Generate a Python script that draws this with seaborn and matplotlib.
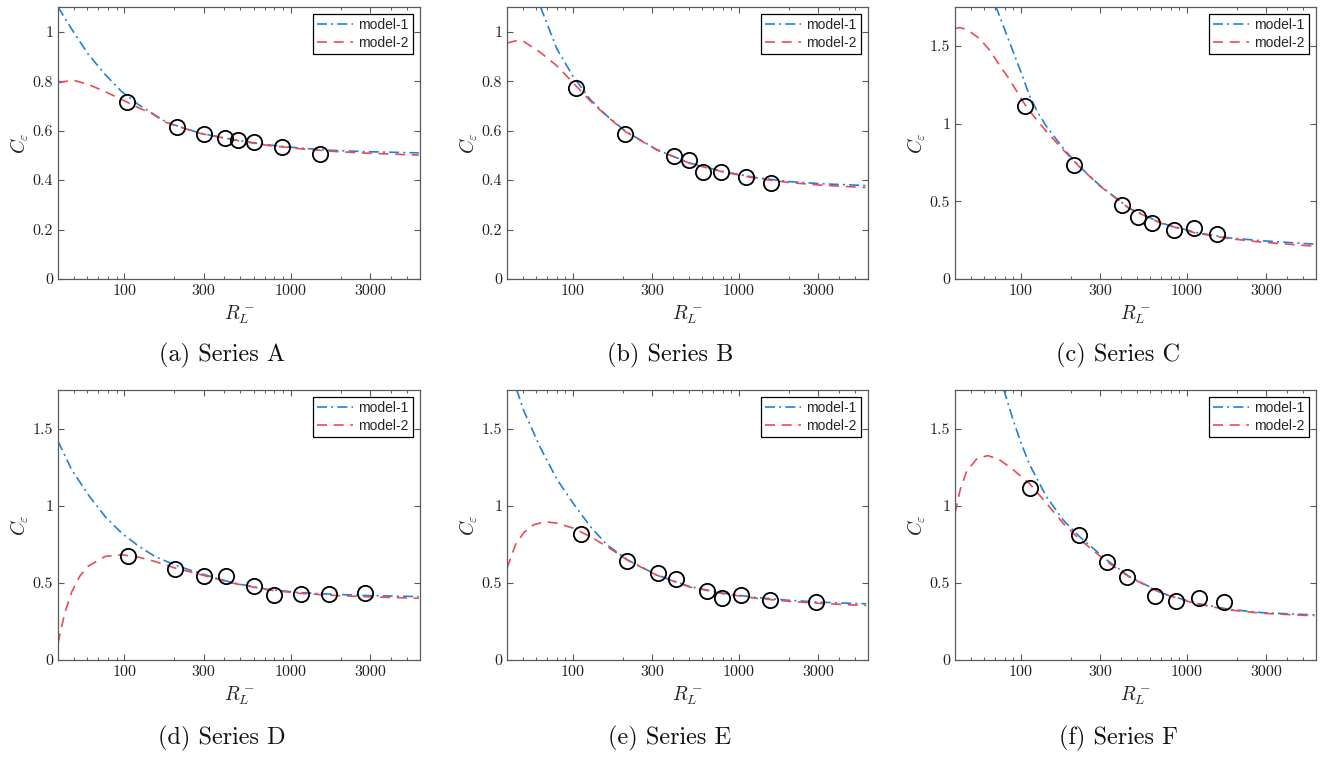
import numpy as np
import seaborn as sns
import matplotlib.pyplot as plt
from matplotlib.ticker import FixedLocator, FixedFormatter, NullFormatter

# measured points (R_L^-, C_eps) for each series
pts_x = {
    "A": [104, 208, 303, 402, 485, 600, 883, 1507],
    "B": [104, 207, 407, 501, 605, 783, 1102, 1570],
    "C": [105, 209, 405, 506, 614, 836, 1096, 1520],
    "D": [106, 203, 303, 407, 600, 798, 1153, 1706, 2818],
    "E": [111, 213, 324, 417, 640, 787, 1033, 1535, 2911],
    "F": [113, 225, 328, 435, 646, 855, 1180, 1683],
}
pts_y = {
    "A": [0.714, 0.615, 0.588, 0.572, 0.561, 0.553, 0.535, 0.507],
    "B": [0.772, 0.585, 0.499, 0.482, 0.432, 0.431, 0.412, 0.388],
    "C": [1.11, 0.731, 0.478, 0.401, 0.362, 0.313, 0.325, 0.287],
    "D": [0.675, 0.593, 0.543, 0.543, 0.48, 0.42, 0.431, 0.426, 0.437],
    "E": [0.816, 0.639, 0.561, 0.524, 0.448, 0.40, 0.424, 0.39, 0.379],
    "F": [1.117, 0.81, 0.636, 0.537, 0.418, 0.383, 0.403, 0.379],
}

# model-1 curves
m1_x = {
    "A": [40, 48.3, 60.8, 76.6, 96.5, 121.4, 146, 180, 285, 450, 715, 1130, 1800, 2840, 5900],
    "B": [63.7, 80, 100, 127, 160, 207, 320, 505, 800, 1270, 2010, 3190, 5800],
    "C": [70.5, 81.7, 100, 112.7, 126.5, 142, 179, 225, 297, 449, 711, 1127, 1786, 2831, 5880],
    "D": [40, 48.3, 60.8, 76.6, 96.5, 121.4, 153, 201, 264, 303, 450, 715, 1130, 1800, 2840, 5900],
    "E": [45.7, 50.6, 63.7, 80.2, 100, 127, 160, 213, 319, 505, 800, 1270, 2010, 3190, 5850],
    "F": [78.7, 89.5, 100, 112.7, 142, 179, 225, 328, 449, 711, 1127, 1786, 2831, 5880],
}
m1_y = {
    "A": [1.10, 1.011, 0.909, 0.828, 0.758, 0.706, 0.672, 0.633, 0.59, 0.564, 0.543, 0.53, 0.52, 0.515, 0.51],
    "B": [1.10, 0.93, 0.82, 0.726, 0.66, 0.598, 0.523, 0.469, 0.435, 0.41, 0.394, 0.385, 0.378],
    "C": [1.754, 1.575, 1.33, 1.177, 1.069, 0.983, 0.843, 0.724, 0.604, 0.455, 0.358, 0.30, 0.265, 0.246, 0.224],
    "D": [1.418, 1.234, 1.071, 0.931, 0.823, 0.74, 0.671, 0.617, 0.573, 0.553, 0.50, 0.459, 0.437, 0.426, 0.418, 0.411],
    "E": [1.753, 1.613, 1.374, 1.169, 1.017, 0.866, 0.747, 0.649, 0.552, 0.476, 0.433, 0.405, 0.387, 0.374, 0.364],
    "F": [1.753, 1.558, 1.407, 1.266, 1.06, 0.909, 0.80, 0.649, 0.541, 0.433, 0.368, 0.329, 0.307, 0.292],
}

# model-2 curves
m2_x = {
    "A": [40, 49.4, 60.8, 76.6, 96.5, 121.4, 146, 180, 285, 450, 715, 1130, 1800, 2840, 5900],
    "B": [40, 45, 50.6, 63.7, 80, 100, 127, 160, 207, 320, 505, 800, 1270, 2010, 3190, 5800],
    "C": [40, 43, 48.1, 56.5, 64.9, 74.5, 83.6, 93.8, 100, 112.7, 142, 179, 225, 297, 449, 711, 1127, 1786, 2831, 5880],
    "D": [40, 42, 44.1, 48.3, 54.2, 60.8, 76.6, 96.5, 121.4, 153, 201, 303, 450, 715, 1130, 1800, 2840, 5900],
    "E": [40, 45, 50.6, 58, 68, 80, 100, 127, 160, 213, 319, 505, 800, 1270, 2010, 3190, 5850],
    "F": [40, 43, 47, 54, 63, 74, 89.5, 112.7, 142, 179, 225, 328, 449, 711, 1127, 1786, 2831, 5880],
}
m2_y = {
    "A": [0.794, 0.804, 0.787, 0.758, 0.726, 0.693, 0.67, 0.632, 0.589, 0.563, 0.541, 0.527, 0.516, 0.509, 0.501],
    "B": [0.954, 0.963, 0.96, 0.916, 0.862, 0.794, 0.72, 0.658, 0.596, 0.522, 0.468, 0.433, 0.407, 0.39, 0.379, 0.37],
    "C": [1.612, 1.618, 1.599, 1.545, 1.47, 1.373, 1.297, 1.211, 1.16, 1.08, 0.95, 0.832, 0.722, 0.601, 0.453, 0.355, 0.296, 0.26, 0.237, 0.211],
    "D": [0.108, 0.215, 0.31, 0.44, 0.545, 0.608, 0.671, 0.682, 0.667, 0.639, 0.597, 0.547, 0.498, 0.456, 0.432, 0.419, 0.41, 0.40],
    "E": [0.595, 0.747, 0.827, 0.877, 0.896, 0.887, 0.855, 0.80, 0.736, 0.647, 0.55, 0.473, 0.43, 0.40, 0.38, 0.366, 0.353],
    "F": [0.952, 1.104, 1.223, 1.303, 1.325, 1.299, 1.234, 1.143, 1.017, 0.887, 0.783, 0.639, 0.538, 0.43, 0.365, 0.325, 0.303, 0.286],
}

series = ["A", "B", "C", "D", "E", "F"]
letters = ["a", "b", "c", "d", "e", "f"]
x_ticks = [100, 300, 1000, 3000]
x_minor = [40, 50, 60, 70, 80, 90, 200, 400, 500, 600, 700, 800, 900, 2000, 4000, 5000]

sns.set_theme(style="ticks")
plt.rcParams["font.family"] = ["cmr10", "DejaVu Serif"]
plt.rcParams["mathtext.fontset"] = "cm"
plt.rcParams["axes.formatter.use_mathtext"] = True

fig = plt.figure(figsize=(13.23, 7.6), dpi=100)

W, H = 1323, 760
lefts = [58, 507, 955]
widths = [362, 361, 361]
rows = [(7, 279), (390, 660)]
cap_x = [222, 670, 1118]
cap_y = [355, 738]

blue = "#1f82d6"
red = "#e64c5a"
spine = "#5a5a5a"

for i, s in enumerate(series):
    r, c = divmod(i, 3)
    top, bot = rows[r]
    ax = fig.add_axes([lefts[c] / W, 1 - bot / H, widths[c] / W, (bot - top) / H])

    sns.lineplot(x=m1_x[s], y=m1_y[s], ax=ax, color=blue, linewidth=1.2,
                 linestyle=(0, (6, 2.5, 1.2, 2.5)), label="model-1", sort=False, estimator=None)
    sns.lineplot(x=m2_x[s], y=m2_y[s], ax=ax, color=red, linewidth=1.2,
                 linestyle=(0, (6, 4)), label="model-2", sort=False, estimator=None)
    sns.lineplot(x=pts_x[s], y=pts_y[s], ax=ax, color="black", marker="o", linestyle="none",
                 markerfacecolor="none", markeredgecolor="black", markersize=11,
                 markeredgewidth=1.3, legend=False, sort=False, estimator=None)

    ax.set_xscale("log")
    ax.set_xlim(40, 6000)
    if r == 0 and c < 2:
        ax.set_ylim(0, 1.1)
        yt = [0, 0.2, 0.4, 0.6, 0.8, 1]
        ytl = ["0", "0.2", "0.4", "0.6", "0.8", "1"]
    else:
        ax.set_ylim(0, 1.75)
        yt = [0, 0.5, 1, 1.5]
        ytl = ["0", "0.5", "1", "1.5"]
    ax.yaxis.set_major_locator(FixedLocator(yt))
    ax.yaxis.set_major_formatter(FixedFormatter(ytl))
    ax.xaxis.set_major_locator(FixedLocator(x_ticks))
    ax.xaxis.set_major_formatter(FixedFormatter([str(t) for t in x_ticks]))
    ax.xaxis.set_minor_locator(FixedLocator(x_minor))
    ax.xaxis.set_minor_formatter(NullFormatter())

    ax.tick_params(which="both", direction="in", top=True, right=True, color=spine,
                   labelcolor="#222222", labelsize=11.5)
    ax.tick_params(which="major", length=4, width=0.8)
    ax.tick_params(which="minor", length=2.2, width=0.7)
    for sp in ax.spines.values():
        sp.set_color(spine)
        sp.set_linewidth(0.9)

    ax.set_xlabel("$R_L^-$", fontsize=14, labelpad=4, color="#222222")
    ax.set_ylabel("$C_\\varepsilon$", fontsize=14, labelpad=1, color="#222222")

    leg = ax.legend(loc="upper right", prop={"family": "Liberation Sans", "size": 10},
                    frameon=True, fancybox=False, framealpha=1, edgecolor="black",
                    borderpad=0.3, labelspacing=0.25, handlelength=2.6, handletextpad=0.4,
                    borderaxespad=0.5)
    leg.get_frame().set_linewidth(0.9)

    fig.text(cap_x[c] / W, 1 - cap_y[r] / H, f"({letters[i]}) Series {s}",
             ha="center", va="center", fontsize=17.5, color="#111111")

fig.savefig("out.png", dpi=100)
